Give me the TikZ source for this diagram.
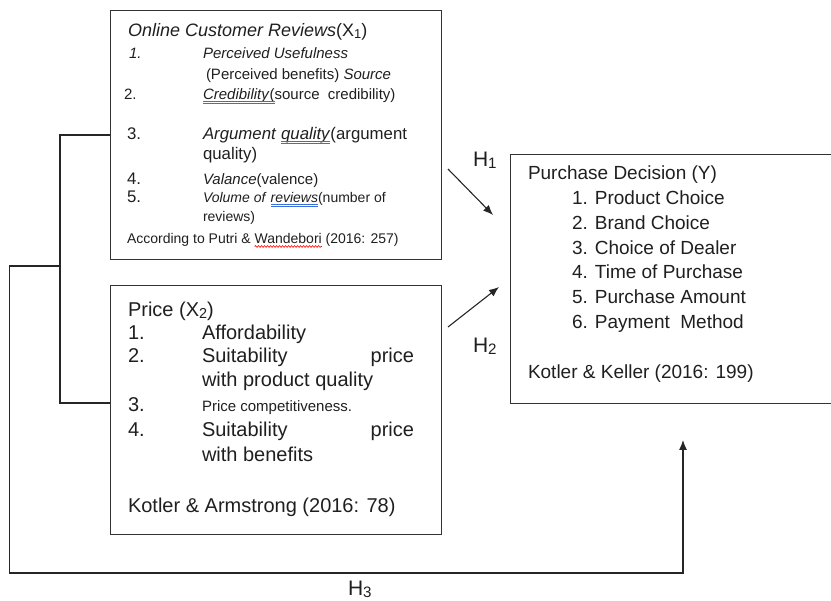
\documentclass[tikz,border=0pt]{standalone}
\usepackage{fontspec}
\usepackage{graphicx}
\setmainfont{Liberation Sans}
\usetikzlibrary{arrows.meta,decorations.pathmorphing}
\definecolor{spellblue}{RGB}{60,110,220}
\newcommand\lowsub[1]{\raisebox{-0.06em}{\scalebox{0.72}{#1}}}
\begin{document}
\begin{tikzpicture}[x=1pt,y=-1pt,
  txt/.style={anchor=base west,inner sep=0pt,outer sep=0pt,text=black!88},
  txr/.style={anchor=base east,inner sep=0pt,outer sep=0pt,text=black!88},
  boxst/.style={draw=black!80,line width=1.1pt,anchor=north west,inner sep=0pt},
  conn/.style={draw=black!85,line width=1.1pt,line join=miter},
  arr/.style={conn,-{Latex[length=10pt,width=8pt]}},
  uline/.style={draw=spellblue,line width=0.7pt},
  wavy/.style={draw=red,line width=0.6pt,decorate,decoration={snake,amplitude=0.9pt,segment length=3pt}},
  fa/.style={font=\fontsize{18}{21}\selectfont},
  fb/.style={font=\fontsize{15}{18}\selectfont},
  fc/.style={font=\fontsize{16.8}{20}\selectfont},
  fd/.style={font=\fontsize{14}{17}\selectfont},
  fe/.style={font=\fontsize{20}{24}\selectfont},
  ff/.style={font=\fontsize{15}{18}\selectfont},
  fg/.style={font=\fontsize{19}{23}\selectfont},
  fh/.style={font=\fontsize{21}{25}\selectfont}]
\useasboundingbox (0,0) rectangle (831,601);
% boxes
\node[boxst,minimum width=331pt,minimum height=249pt] (ocr) at (110,10) {};
\node[boxst,minimum width=331pt,minimum height=249pt] (price) at (110,285) {};
\node[boxst,minimum width=340pt,minimum height=249pt] (pd) at (510,154) {};
% box 1 text
\node[txt,fa] (o0) at (128,37) {\textit{Online Customer Reviews}(X\lowsub{1})};
\node[txt,fb] (o1n) at (129,59) {\textit{1.}};
\node[txt,fb] (o1) at (203,59) {\textit{Perceived Usefulness}};
\node[txt,fb] (o1b) at (206,80) {(Perceived benefits) \textit{Source}};
\node[txt,fb] (o2n) at (124,100) {2.};
\node[txt,fb] (o2a) at (203,100) {\textit{Credibility}(};
\node[txt,fb] (o2b) at (o2a.base east) {source\ \ credibility)};
\node[txt,fc] (o3n) at (127,140) {3.};
\node[txt,fc] (o3a) at (203,140) {\textit{Argument}};
\node[txt,fc] (o3q) at (o3a.base east) {\ \textit{quality}};
\node[txt,fc] (o3b) at (o3q.base east) {(argument};
\node[txt,fc] (o3c) at (203,160) {quality)};
\node[txt,fc] (o4n) at (127,185) {4.};
\node[txt,fb] (o4) at (203,185) {\textit{Valance}(valence)};
\node[txt,fc] (o5n) at (127,203) {5.};
\node[txt,fd] (o5a) at (203,203) {\textit{Volume of}};
\node[txt,fd] (o5r) at (o5a.base east) {\ \textit{reviews}};
\node[txt,fd] (o5b) at (o5r.base east) {(number of};
\node[txt,fd] (o5c) at (203,222) {reviews)};
\node[txt,fd] (os1) at (127,244) {According to Putri \&};
\node[txt,fd] (os2) at (os1.base east) {\ Wandebori};
\node[txt,fd] (os3) at (os2.base east) {\ (2016: 257)};
% spelling marks
\foreach \w/\s in {o2a/0pt,o3q/4.5pt,o5r/3.8pt}{
  \draw[uline] ([yshift=-1.8pt,xshift=\s]\w.base west) -- ([yshift=-1.8pt]\w.base east);
  \draw[uline] ([yshift=-3.3pt,xshift=\s]\w.base west) -- ([yshift=-3.3pt]\w.base east);
}
\draw[wavy] ([yshift=-2.5pt,xshift=3.9pt]os2.base west) -- ([yshift=-2.5pt]os2.base east);
% box 2 text
\node[txt,fe] (p0) at (128,317) {Price (X\lowsub{2})};
\node[txt,fe] (p1n) at (128,340) {1.};
\node[txt,fe] (p1) at (202,340) {Affordability};
\node[txt,fe] (p2n) at (128,363) {2.};
\node[txt,fe] (p2) at (202,363) {Suitability};
\node[txr,fe] (p2r) at (414,363) {price};
\node[txt,fe] (p2b) at (202,387) {with product quality};
\node[txt,fe] (p3n) at (128,412) {3.};
\node[txt,ff] (p3) at (202,412) {Price competitiveness.};
\node[txt,fe] (p4n) at (128,437) {4.};
\node[txt,fe] (p4) at (202,437) {Suitability};
\node[txr,fe] (p4r) at (414,437) {price};
\node[txt,fe] (p4b) at (202,462) {with benefits};
\node[txt,fe] (psrc) at (128,513) {Kotler \& Armstrong (2016: 78)};
% box 3 text
\node[txt,fg] (d0) at (528,180) {Purchase Decision (Y)};
\node[txt,fg] (d1) at (572,205) {1. Product Choice};
\node[txt,fg] (d2) at (572,230) {2. Brand Choice};
\node[txt,fg] (d3) at (572,255) {3. Choice of Dealer};
\node[txt,fg] (d4) at (572,279) {4. Time of Purchase};
\node[txt,fg] (d5) at (572,304) {5. Purchase Amount};
\node[txt,fg] (d6) at (572,329) {6. Payment\ \ Method};
\node[txt,fg] (dsrc) at (528,379) {Kotler \& Keller (2016: 199)};
% connectors
\coordinate (j1) at (60,135);
\coordinate (j2) at (60,403);
\coordinate (j3) at (60,266);
\coordinate (c1) at (9.5,266);
\coordinate (c2) at (9.5,573);
\coordinate (c3) at (683,573);
\coordinate (c4) at (683,440);
\draw[conn] (ocr.west |- j1) -- (j1) -- (j2) -- (price.west |- j2);
\draw[arr] (j3) -- (c1) -- (c2) -- (c3) -- (c4);
\coordinate (h1s) at (448,169);
\coordinate (h1e) at (493,215);
\coordinate (h2s) at (448,327);
\coordinate (h2e) at (499,287);
\draw[arr] (h1s) -- (h1e);
\draw[arr] (h2s) -- (h2e);
% labels
\node[txt,fh] (lh1) at (473,167) {H\lowsub{1}};
\node[txt,fh] (lh2) at (473,353) {H\lowsub{2}};
\node[txt,fh] (lh3) at (348,596) {H\lowsub{3}};
\end{tikzpicture}
\end{document}
